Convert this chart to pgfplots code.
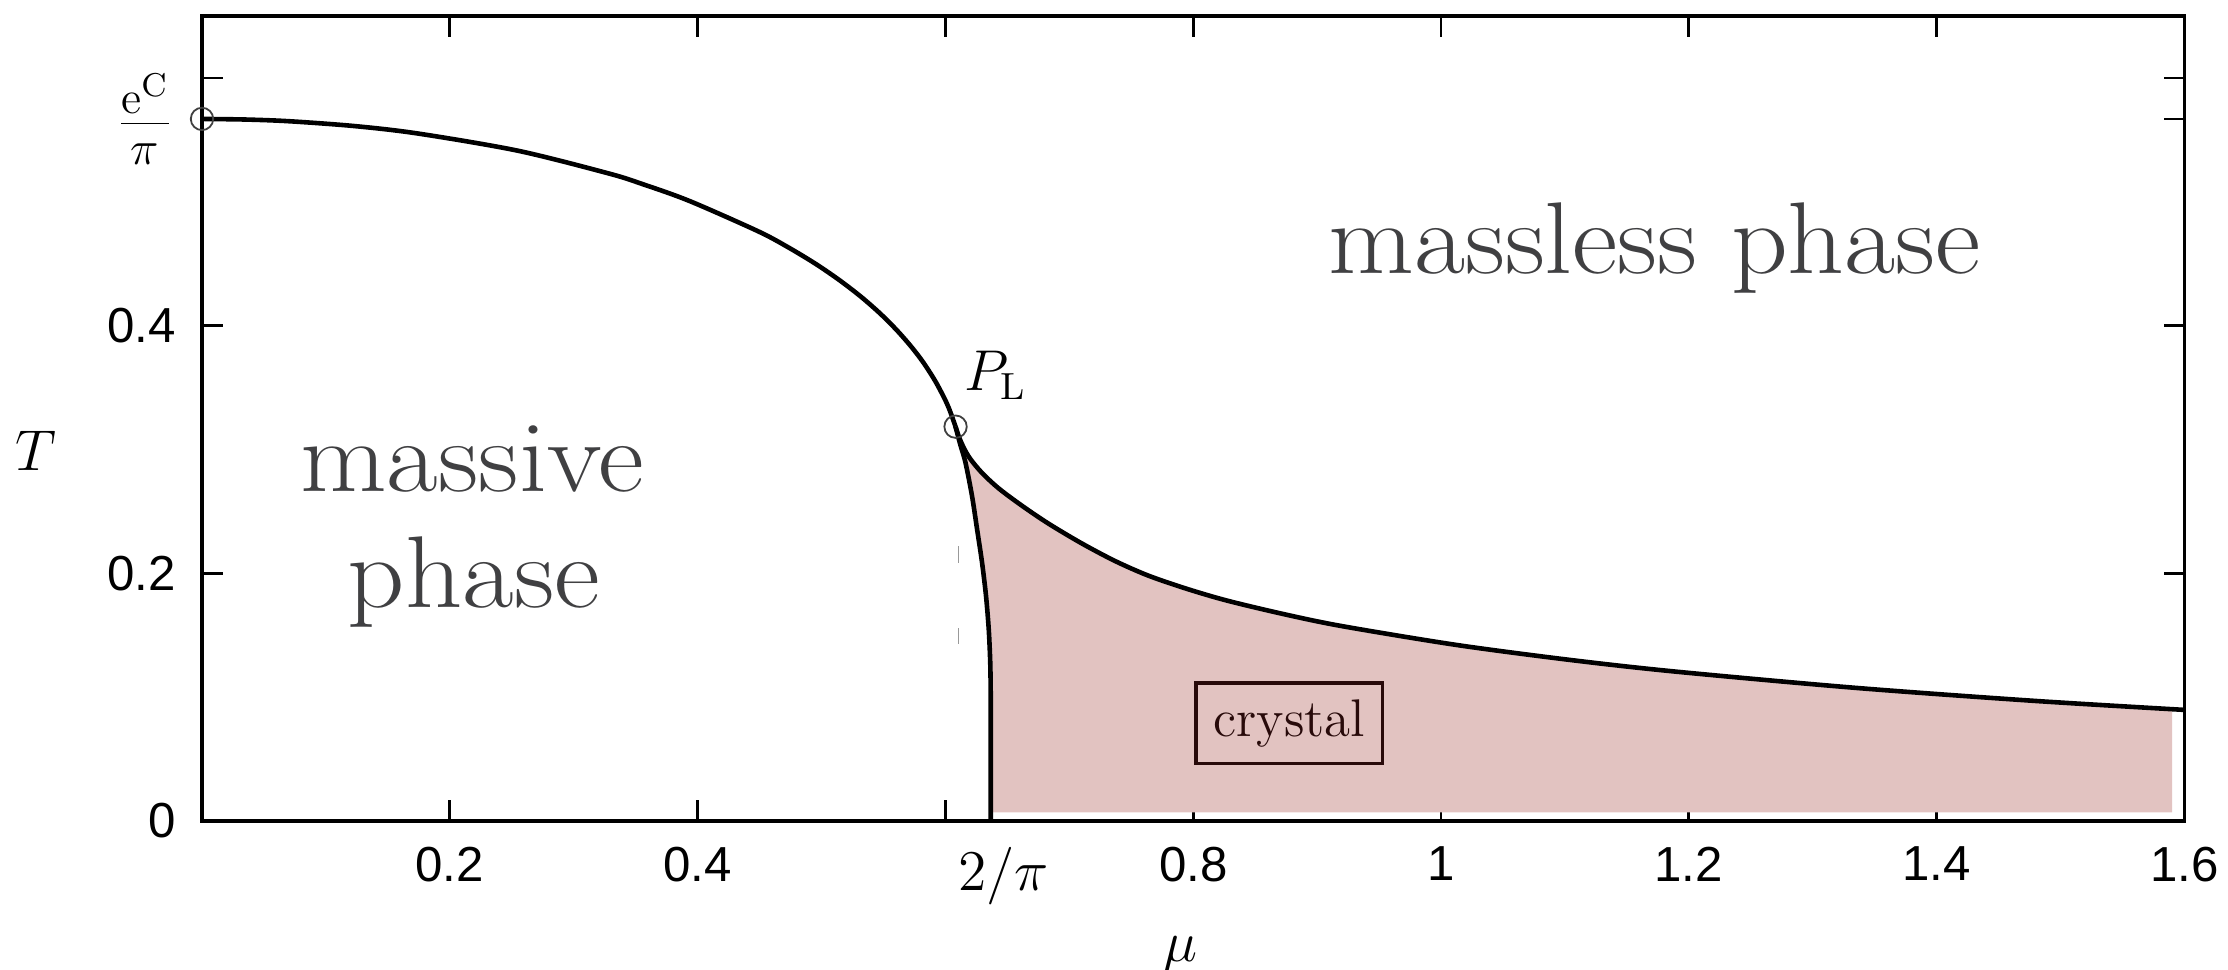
\documentclass[border=0pt]{standalone}
\usepackage{fontspec}
\usepackage{graphicx}
\usepackage{pgfplots}
\pgfplotsset{compat=1.18}
\newfontfamily\helv{Liberation Sans}
\definecolor{crystalfill}{RGB}{226,195,193}
\definecolor{labgray}{RGB}{64,64,66}
\definecolor{boxdark}{RGB}{40,10,10}
\begin{document}
\begin{tikzpicture}
\useasboundingbox (-50.5pt,-37.25pt) rectangle (506.5pt,205.25pt);
\begin{axis}[
  scale only axis, width=495.6pt, height=201.25pt,
  xmin=0, xmax=1.6, ymin=0, ymax=0.65,
  clip=false,
  axis line style={line width=0.85pt},
  tick style={black, line width=0.7pt},
  major tick length=5.2pt,
  xtick={0.2,0.4,0.6,0.8,1,1.2,1.4,1.6},
  xticklabels={0.2,0.4,,0.8,1,1.2,1.4,1.6},
  ytick={0,0.2,0.4,0.6},
  yticklabels={0,0.2,0.4,},
  tick label style={font=\helv\fontsize{12.3}{14}\selectfont},
  /pgf/number format/assume math mode=true,
  xticklabel style={yshift=-3pt},
  yticklabel style={xshift=-3.1pt},
  extra x ticks={0.647},
  extra x tick labels={$2/\pi$},
  extra x tick style={tick style={draw=none}, xticklabel style={font=\fontsize{13.5}{16}\selectfont}},
  extra y ticks={0.5669},
  extra y tick labels={$\frac{\mathrm{e}^{\mathrm{C}}}{\pi}$},
  extra y tick style={yticklabel style={font=\fontsize{16.5}{20}\selectfont, xshift=-0.5pt}},
]
% crystal region fill
\addplot[fill=crystalfill, draw=none] coordinates {
(0.6366,0.007) (0.6366,0.0736) (0.6366,0.1000) (0.6362,0.1276) (0.6350,0.1545)
(0.6328,0.1815) (0.6296,0.2085) (0.6256,0.2354) (0.6215,0.2624) (0.6162,0.2894)
(0.6120,0.3040) (0.6082,0.3184)
(0.6110,0.3100) (0.6150,0.3010) (0.6200,0.2925) (0.6296,0.2810) (0.6431,0.2685)
(0.6619,0.2545) (0.6834,0.2400) (0.7103,0.2240) (0.7372,0.2098) (0.7641,0.1980)
(0.7957,0.1872) (0.8283,0.1777) (0.8746,0.1667) (0.9209,0.1572) (1.0135,0.1420)
(1.1062,0.1298) (1.1906,0.1205) (1.3346,0.1075) (1.4787,0.0970) (1.5900,0.0902)
(1.5900,0.007)
} -- cycle;
% second-order line massive -> massless
\addplot[black, line width=1.15pt, smooth, tension=0.5] coordinates {
(0,0.5669) (0.0356,0.5664) (0.0710,0.5650) (0.1234,0.5611) (0.1744,0.5551)
(0.2551,0.5412) (0.3285,0.5228) (0.3555,0.5143) (0.3933,0.5007) (0.4488,0.4762)
(0.4730,0.4633) (0.4949,0.4501) (0.5145,0.4367) (0.5319,0.4233) (0.5472,0.4099)
(0.5606,0.3965) (0.5721,0.3834) (0.5820,0.3705) (0.5917,0.3554) (0.5995,0.3407)
(0.6036,0.3313) (0.6082,0.3184)
};
% crystal - massless line
\addplot[black, line width=1.15pt, smooth, tension=0.5] coordinates {
(0.6082,0.3184) (0.6110,0.3100) (0.6150,0.3010) (0.6200,0.2925) (0.6296,0.2810)
(0.6431,0.2685) (0.6619,0.2545) (0.6834,0.2400) (0.7103,0.2240) (0.7372,0.2098)
(0.7641,0.1980) (0.7957,0.1872) (0.8283,0.1777) (0.8746,0.1667) (0.9209,0.1572)
(1.0135,0.1420) (1.1062,0.1298) (1.1906,0.1205) (1.3346,0.1075) (1.4787,0.0970)
(1.6000,0.0897)
};
% crystal - massive line
\addplot[black, line width=1.15pt, smooth, tension=0.5] coordinates {
(0.6082,0.3184) (0.6120,0.3040) (0.6162,0.2894) (0.6215,0.2624) (0.6256,0.2354)
(0.6296,0.2085) (0.6328,0.1815) (0.6350,0.1545) (0.6362,0.1276) (0.6366,0.1000)
(0.6366,0.0736) (0.6366,0)
};
% faint dashes
\addplot[black!40, line width=0.35pt] coordinates {(0.6105,0.2085) (0.6105,0.2219)};
\addplot[black!40, line width=0.35pt] coordinates {(0.6105,0.1430) (0.6105,0.1559)};
% special points
\addplot[only marks, mark=o, mark size=2.8pt, mark options={line width=0.45pt, draw=black!75}] coordinates {(0,0.5669) (0.6082,0.3184)};
% labels
\node[font=\fontsize{25.5}{30}\selectfont, text=labgray, anchor=base] at (axis cs:1.1724,0.4417) {\scalebox{1.09}[1]{massless phase}};
\node[font=\fontsize{25.5}{30}\selectfont, text=labgray, anchor=base] at (axis cs:0.2181,0.2664) {\scalebox{1.1}[1]{massive}};
\node[font=\fontsize{25.5}{30}\selectfont, text=labgray, anchor=base] at (axis cs:0.2195,0.1721) {\scalebox{1.1}[1]{phase}};
\node[draw=boxdark, line width=0.8pt, text=boxdark, inner xsep=4.4pt, inner ysep=4.1pt, font=\fontsize{13.25}{16}\selectfont] at (axis cs:0.8776,0.0790) {crystal};
\node[anchor=base west, inner sep=0pt, font=\fontsize{13.5}{16}\selectfont] at (axis cs:0.6148,0.3473) {$P_{\mathrm{L}}$};
\node[anchor=base, inner sep=0pt, font=\fontsize{13.5}{16}\selectfont] at (axis cs:0.790,-0.1133) {$\mu$};
\node[font=\fontsize{13.5}{16}\selectfont] at (axis cs:-0.1344,0.2985) {$T$};
\end{axis}
\end{tikzpicture}
\end{document}
